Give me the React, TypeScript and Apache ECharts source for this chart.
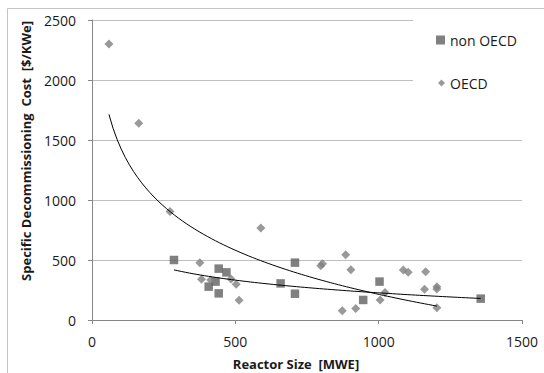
import React, { useEffect, useRef } from "react";
import * as echarts from "echarts";

// Reactor size [MWE] and specific decommissioning cost [$/KWe]
const NON_OECD_X = [286, 407, 431, 442, 442, 469, 658, 708, 708, 946, 1003, 1356];
const NON_OECD_Y = [500, 278, 320, 428, 222, 397, 305, 478, 219, 167, 320, 178];
const OECD_X = [59, 163, 272, 376, 382, 414, 485, 503, 513, 589, 798, 804, 873, 885, 903, 920, 1005, 1022, 1086, 1103, 1160, 1164, 1203, 1203, 1203];
const OECD_Y = [2300, 1640, 905, 478, 339, 333, 342, 297, 164, 767, 452, 468, 78, 544, 419, 95, 167, 230, 417, 397, 256, 403, 278, 258, 103];

// Logarithmic trend lines y = a + b*ln(x), coefficients
const NON_OECD_TREND = [1283, -153];
const OECD_TREND = [3875, -530];

const X_MIN = 0, X_MAX = 1500, X_STEP = 500;
const Y_MIN = 0, Y_MAX = 2500, Y_STEP = 500;

const FONT = "'Open Sans', 'Noto Sans', sans-serif";

function trend(xs: number[], coef: number[]) {
  const lo = Math.min(...xs);
  const hi = Math.max(...xs);
  const pts: number[][] = [];
  const n = 80;
  for (let i = 0; i <= n; i++) {
    const x = lo + ((hi - lo) * i) / n;
    pts.push([x, coef[0] + coef[1] * Math.log(x)]);
  }
  return pts;
}

export default function App() {
  const ref = useRef<HTMLDivElement>(null);
  useEffect(() => {
    if (!ref.current) return;
    const chart = echarts.init(ref.current, undefined, { renderer: "svg" });
    const nonOecd = NON_OECD_X.map((x, i) => [x, NON_OECD_Y[i]]);
    const oecd = OECD_X.map((x, i) => [x, OECD_Y[i]]);
    const plain = (v: number) => String(v);
    chart.setOption({
      animation: false,
      backgroundColor: "#ffffff",
      grid: { left: 92, top: 20, right: 22, bottom: 53 },
      xAxis: {
        type: "value",
        min: X_MIN,
        max: X_MAX,
        interval: X_STEP,
        axisLine: { show: true, lineStyle: { color: "#868686", width: 1 } },
        axisTick: { show: true, length: 4, lineStyle: { color: "#868686" } },
        splitLine: { show: false },
        axisLabel: { color: "#1a1a1a", fontSize: 14, fontFamily: FONT, margin: 14, formatter: plain },
      },
      yAxis: {
        type: "value",
        min: Y_MIN,
        max: Y_MAX,
        interval: Y_STEP,
        axisLine: { show: true, lineStyle: { color: "#868686", width: 1 } },
        axisTick: { show: true, length: 4, lineStyle: { color: "#868686" } },
        splitLine: { show: true, lineStyle: { color: "#bfbfbf", width: 1 } },
        axisLabel: { color: "#1a1a1a", fontSize: 14, fontFamily: FONT, margin: 16, formatter: plain },
      },
      legend: [
        {
          data: [{ name: "non OECD", icon: "rect" }],
          left: 436,
          top: 33,
          padding: 0,
          itemWidth: 9,
          itemHeight: 9,
          itemGap: 5,
          z: 10,
          textStyle: { color: "#1a1a1a", fontSize: 14, fontFamily: FONT },
        },
        {
          data: [{ name: "OECD", icon: "diamond" }],
          left: 438,
          top: 76,
          padding: 0,
          itemWidth: 7,
          itemHeight: 7,
          itemGap: 5,
          z: 10,
          textStyle: { color: "#1a1a1a", fontSize: 14, fontFamily: FONT },
        },
      ],
      graphic: [
        {
          type: "rect",
          z: 1,
          silent: true,
          shape: { x: 7.5, y: 8.5, width: 600, height: 500 },
          style: { fill: "none", stroke: "#c4c4c4", lineWidth: 1 },
        },
        {
          type: "rect",
          z: 3,
          silent: true,
          shape: { x: 413, y: 14, width: 112, height: 84 },
          style: { fill: "#ffffff" },
        },
        {
          type: "text",
          z: 5,
          x: 296,
          y: 364,
          style: {
            text: "Reactor Size  [MWE]",
            fontSize: 13,
            fontWeight: "bold",
            fontFamily: FONT,
            fill: "#1a1a1a",
            align: "center",
            verticalAlign: "middle",
          },
        },
        {
          type: "text",
          z: 5,
          x: 26,
          y: 151,
          rotation: Math.PI / 2,
          style: {
            text: "Specific Decommissioning  Cost  [$/KWe]",
            fontSize: 13,
            fontWeight: "bold",
            fontFamily: FONT,
            fill: "#1a1a1a",
            align: "center",
            verticalAlign: "middle",
          },
        },
      ],
      series: [
        {
          name: "non OECD",
          type: "scatter",
          symbol: "rect",
          symbolSize: 8.5,
          z: 4,
          itemStyle: { color: "#606060" },
          data: nonOecd,
        },
        {
          name: "OECD",
          type: "scatter",
          symbol: "diamond",
          symbolSize: 9,
          z: 4,
          itemStyle: { color: "#7f7f7f" },
          data: oecd,
        },
        {
          name: "trend non OECD",
          type: "line",
          showSymbol: false,
          smooth: false,
          z: 5,
          lineStyle: { color: "#000000", width: 1 },
          data: trend(NON_OECD_X, NON_OECD_TREND),
        },
        {
          name: "trend OECD",
          type: "line",
          showSymbol: false,
          smooth: false,
          z: 5,
          lineStyle: { color: "#000000", width: 1 },
          data: trend(OECD_X, OECD_TREND),
        },
      ],
    });
    return () => chart.dispose();
  }, []);
  return (
    <div
      ref={ref}
      style={{ position: "fixed", left: 0, top: 0, width: 544, height: 373 }}
    />
  );
}
